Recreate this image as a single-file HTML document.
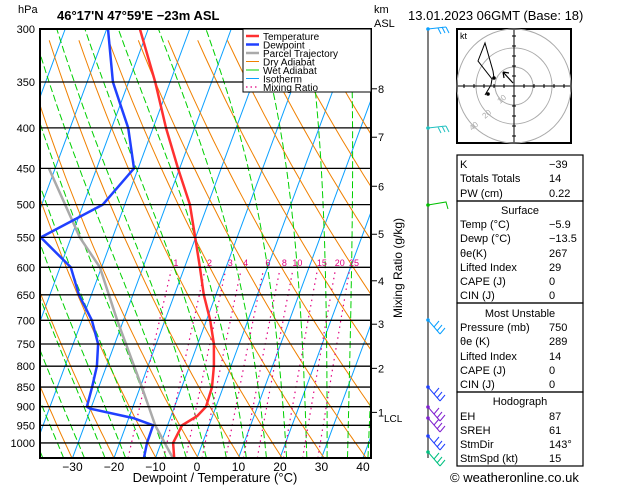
<!DOCTYPE html>
<html><head><meta charset="utf-8"><style>
body{margin:0;background:#fff;}
svg{display:block;font-family:"Liberation Sans","DejaVu Sans",sans-serif;}
</style></head><body>
<svg id="c" width="629" height="486" viewBox="0 0 629 486" xmlns="http://www.w3.org/2000/svg">
<defs><clipPath id="pc"><rect x="40" y="29" width="331" height="429"/></clipPath></defs>
<rect width="629" height="486" fill="#fff"/>
<g id="bg" clip-path="url(#pc)"></g>
<g id="prof" clip-path="url(#pc)"></g>
<g id="axes"></g>
<text x="18" y="13" font-size="11">hPa</text>
<text x="57" y="20" font-size="13" font-weight="bold">46°17'N  47°59'E  −23m  ASL</text>
<text x="374" y="13" font-size="11">km</text>
<text x="374" y="27" font-size="11">ASL</text>
<text x="408" y="20" font-size="13">13.01.2023 06GMT (Base: 18)</text>
<text x="215" y="482" font-size="13" text-anchor="middle">Dewpoint / Temperature (°C)</text>
<text transform="translate(402,268) rotate(-90)" font-size="12" text-anchor="middle">Mixing Ratio (g/kg)</text>
<g>
<rect x="243" y="29" width="128" height="63" fill="#fff" stroke="#000"/>
</g>
<g id="legend"></g>
<g id="hodo"></g>
<g id="table"></g>
<g id="wind"></g>
<text x="450" y="482" font-size="13">© weatheronline.co.uk</text>
</svg>
<script>
// ---- data ----
const pressureLevels=[300,350,400,450,500,550,600,650,700,750,800,850,900,950,1000];
const tempTicks=[-30,-20,-10,0,10,20,30,40];
const tempP=[300,350,400,450,500,550,600,650,700,750,800,850,900,925,950,1000,1045];
const tempT=[-52,-43.6,-36.9,-30.4,-24.3,-20.1,-16.3,-12.9,-9.1,-6.1,-4.1,-2.7,-2.4,-3.7,-6.5,-7.1,-5.5];
const dewP=[300,350,380,400,450,500,550,600,650,700,750,800,850,900,905,930,950,1000,1045];
const dewT=[-59.7,-53.8,-49,-46,-41,-45.3,-57.3,-47.4,-43,-37.6,-34,-32.3,-31.6,-31.1,-30.2,-19,-13.5,-13.4,-12.8];
const parcelP=[1045,950,850,700,600,550,450];
const parcelT=[-5.8,-13,-19.6,-31.5,-40.4,-47.9,-61.5];
const mixRatios=[1,2,3,4,6,8,10,15,20,25];
const kmLabels=["8","7","6","5","4","3","2","1"];
const kmHeights=[8,7,6,5,4,3,2,1];
const kmPressures=[357,411,474,545,624,708,805,915];
// ---- axes ----
const X0=197,PX=4.15,SK=0.37,YB=458;
function yP(p){return 29+343.8*Math.log(p/300);}
function xT(t,p){return X0+PX*t+SK*(YB-yP(p));}
const NS="http://www.w3.org/2000/svg";
function mk(tag,attrs,parent){const e=document.createElementNS(NS,tag);for(const k in attrs)e.setAttribute(k,attrs[k]);parent.appendChild(e);return e;}
const bg=document.getElementById('bg'),prof=document.getElementById('prof'),ax=document.getElementById('axes');
function pathFrom(ps,ts){return ps.map((p,i)=>(i?'L':'M')+xT(ts[i],p).toFixed(1)+' '+yP(p).toFixed(1)).join(' ');}
// isotherms
for(let t=-120;t<=50;t+=10){
  const l=mk('line',{x1:xT(t,1045),y1:yP(1045),x2:xT(t,300),y2:yP(300),stroke:'#0aa0ff','stroke-width':1},bg);
  
  
}
// dry adiabats
for(let th=220;th<=480;th+=10){
  const ps=[],ts=[];for(let p=1045;p>=300;p-=15){ps.push(p);ts.push(th*Math.pow(p/1000,0.286)-273.15);}
  const e=mk('path',{d:pathFrom(ps,ts),fill:'none',stroke:'#f08000','stroke-width':1},bg);
  
  
}
// moist adiabats
function es(t){return 6.112*Math.exp(17.67*t/(t+243.5));}
function moistRate(t,p){const T=t+273.15;const e=es(t);const r=0.622*e/(p-e);const L=2.5e6,Rd=287,cp=1004,eps=0.622;
  const num=Rd*T+L*r;const den=cp+L*L*r*eps/(Rd*T*T);return num/den/p;}
for(let t0=-40;t0<=44;t0+=5){
  const ps=[],ts=[];
  let tt=t0;for(let p=1000;p<1045;p+=5){tt+=moistRate(tt,p)*5;}
  let t=tt;for(let p=1045;p>=300;p-=5){ps.push(p);ts.push(t);t-=moistRate(t,p)*5;}
  const e=mk('path',{d:pathFrom(ps,ts),fill:'none',stroke:'#00d000','stroke-width':1,'stroke-dasharray':'7,3'},bg);
  
  
}
// mixing ratio
function tdFromW(w,p){const e=w*p/(622+w);const a=Math.log(e/6.112);return 243.5*a/(17.67-a);}
mixRatios.forEach(w=>{
  const ps=[],ts=[];for(let p=1045;p>=600;p-=10){ps.push(p);ts.push(tdFromW(w,p));}
  const e=mk('path',{d:pathFrom(ps,ts),fill:'none',stroke:'#e0007f','stroke-width':1.2,'stroke-dasharray':'1.5,4'},bg);
  
  
  const lb=mk('text',{x:xT(tdFromW(w,600),600)+4,y:266,'font-size':9,fill:'#e0007f','text-anchor':'middle'},ax);
  lb.textContent=w;
  
  
});
// pressure lines
pressureLevels.forEach(p=>{
  const y=yP(p);
  const l=mk('line',{x1:40,x2:371,y1:y,y2:y,stroke:'#000','stroke-width':1.3},ax);
  
  
  const tx=mk('text',{x:35,y:y+4,'font-size':11,'text-anchor':'end'},ax);tx.textContent=p;
  
  
});
// frame
const fr=mk('rect',{x:40,y:29,width:331,height:429,fill:'none',stroke:'#000','stroke-width':2},ax);


tempTicks.forEach(t=>{
  const tx=mk('text',{x:xT(t,1045),y:471,'font-size':12,'text-anchor':'middle'},ax);tx.textContent=(t<0?'−'+(-t):t);
  
  
});
kmPressures.forEach((p,i)=>{
  const y=yP(p);
  mk('line',{x1:371,x2:377,y1:y,y2:y,stroke:'#000'},ax);
  const tx=mk('text',{x:378,y:y+4,'font-size':11},ax);tx.textContent=kmLabels[i];
  
  
});
const lcl=mk('text',{x:384,y:422,'font-size':10},ax);lcl.textContent='LCL';


// profiles
const pp=mk('path',{d:pathFrom(parcelP,parcelT),fill:'none',stroke:'#aaa','stroke-width':2.5},prof);


const dp=mk('path',{d:pathFrom(dewP,dewT),fill:'none',stroke:'#2040ff','stroke-width':2.5},prof);


const tp=mk('path',{d:pathFrom(tempP,tempT),fill:'none',stroke:'#ff3030','stroke-width':2.5},prof);


// legend
const lg=document.getElementById('legend');
[['Temperature','#ff3030',2.5,''],['Dewpoint','#2040ff',2.5,''],['Parcel Trajectory','#aaa',2.5,''],['Dry Adiabat','#f08000',1,''],['Wet Adiabat','#00d000',1,''],['Isotherm','#0aa0ff',1,''],['Mixing Ratio','#e0007f',1.2,'1.5,3']].forEach((e,i)=>{
  const y=36+i*8.5;
  const l=mk('line',{x1:246,x2:259,y1:y,y2:y,stroke:e[1],'stroke-width':e[2]},lg);if(e[3])l.setAttribute('stroke-dasharray',e[3]);
  const t=mk('text',{x:263,y:y+4,'font-size':10},lg);t.textContent=e[0];
  
  
});
// hodograph
const hg=document.getElementById('hodo');
mk('rect',{x:457,y:29,width:114,height:114,fill:'#fff',stroke:'#000','stroke-width':2},hg);
const cx=514,cy=86;
[19,38,57].forEach(r=>mk('circle',{cx:cx,cy:cy,r:r,fill:'none',stroke:'#aaa'},hg));
mk('line',{x1:458,x2:570,y1:cy,y2:cy,stroke:'#000'},hg);mk('line',{x1:cx,x2:cx,y1:30,y2:142,stroke:'#000'},hg);
for(let i=-5;i<=5;i++){if(!i)continue;mk('line',{x1:cx+i*10,x2:cx+i*10,y1:cy-2,y2:cy+2,stroke:'#000'},hg);mk('line',{y1:cy+i*10,y2:cy+i*10,x1:cx-2,x2:cx+2,stroke:'#000'},hg);}
mk('path',{d:'M485 95 L491 85 L492 79 L478 61 L485 43 L493 71 L494 78',fill:'none',stroke:'#000'},hg);
mk('path',{d:'M513 83 L503 72 M503 72 l6 1 M503 72 l1 6',fill:'none',stroke:'#000','stroke-width':1.2},hg);
mk('circle',{cx:494,cy:78,r:1.8},hg);mk('circle',{cx:488,cy:94,r:1.8},hg);
const kt=mk('text',{x:460,y:39,'font-size':9},hg);kt.textContent='kt';
[['10',500,104],['20',485,119],['40',472,131]].forEach(a=>{const t=mk('text',{x:a[1],y:a[2],'font-size':8,fill:'#aaa',transform:'rotate(-40 '+a[1]+' '+a[2]+')'},hg);t.textContent=a[0];});
// table
const tb=document.getElementById('table');
[[155,201],[201,303],[303,392],[392,466]].forEach(b=>mk('rect',{x:457,y:b[0],width:126,height:b[1]-b[0],fill:'none',stroke:'#000','stroke-width':1.2},tb));
const rows=[['K','−39',164],['Totals Totals','14',178],['PW (cm)','0.22',193],['#Surface','',210],['Temp (°C)','−5.9',224],['Dewp (°C)','−13.5',238],['θe(K)','267',253],['Lifted Index','29',267],['CAPE (J)','0',281],['CIN (J)','0',295],['#Most Unstable','',313],['Pressure (mb)','750',327],['θe (K)','289',341],['Lifted Index','14',356],['CAPE (J)','0',370],['CIN (J)','0',384],['#Hodograph','',401],['EH','87',416],['SREH','61',430],['StmDir','143°',444],['StmSpd (kt)','15',458]];
rows.forEach(r=>{
  if(r[0][0]==='#'){const t=mk('text',{x:520,y:r[2]+4,'font-size':11,'text-anchor':'middle'},tb);t.textContent=r[0].slice(1);
    
    return;}
  const a=mk('text',{x:460,y:r[2]+4,'font-size':11},tb);a.textContent=r[0];
  
  
  const b=mk('text',{x:549,y:r[2]+4,'font-size':11},tb);b.textContent=r[1];
  
  
});
// wind barbs
const wd=document.getElementById('wind');
mk('line',{x1:428,x2:428,y1:29,y2:458,stroke:'#000'},wd);
[[29,'#0aa0ff',1],[128,'#20c0c0',1],[205,'#00c000',0],[320,'#0aa0ff',2],[387,'#2040ff',2],[407,'#8020d0',2],[418,'#8020d0',2],[436,'#2040ff',2],[452,'#00c080',2]].forEach(b=>{
  const [y,c,k]=b;
  mk('circle',{cx:428,cy:y,r:1.8,fill:c},wd);
  if(k===2){mk('path',{d:`M428 ${y} L440 ${y+14} M440 ${y+14} l5 -6 M437 ${y+11} l5 -6 M434 ${y+7} l5 -6`,fill:'none',stroke:c},wd);}
  else if(k===1){mk('path',{d:`M428 ${y} L446 ${y-2} M446 ${y-2} l3 6 M442 ${y-2} l3 6 M438 ${y-1} l3 6`,fill:'none',stroke:c},wd);}
  else {mk('path',{d:`M428 ${y} L446 ${y-3} l2 7`,fill:'none',stroke:c},wd);}
});
</script>
</body></html>
